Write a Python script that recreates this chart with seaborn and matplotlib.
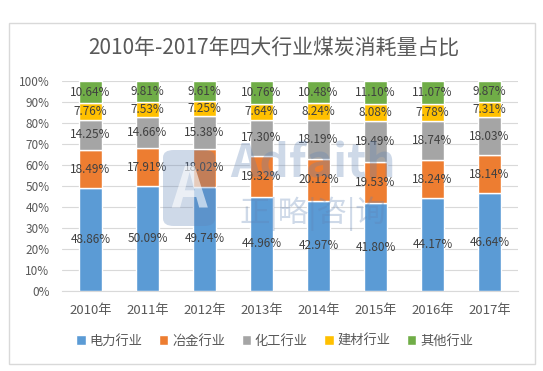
import numpy as np
import matplotlib.pyplot as plt
import seaborn as sns
from matplotlib.patches import Rectangle, FancyBboxPatch

# data
years = ['2010年', '2011年', '2012年', '2013年', '2014年', '2015年', '2016年', '2017年']
power = [48.86, 50.09, 49.74, 44.96, 42.97, 41.80, 44.17, 46.64]
metal = [18.49, 17.91, 18.02, 19.32, 20.12, 19.53, 18.24, 18.14]
chem = [14.25, 14.66, 15.38, 17.30, 18.19, 19.49, 18.74, 18.03]
build = [7.76, 7.53, 7.25, 7.64, 8.24, 8.08, 7.78, 7.31]
other = [10.64, 9.81, 9.61, 10.76, 10.48, 11.10, 11.07, 9.87]
series_names = ['电力行业', '冶金行业', '化工行业', '建材行业', '其他行业']
colors = ['#5B9BD5', '#ED7D31', '#A5A5A5', '#FFC000', '#70AD47']

sns.set_style('white')
plt.rcParams['font.family'] = ['Noto Sans CJK SC', 'DejaVu Sans']

fig = plt.figure(figsize=(5.43, 3.71), dpi=100)
ax = fig.add_axes([0.114, 0.2156, 0.84, 0.566])

bottom = np.zeros(len(years))
for name, vals, c in zip(series_names, [power, metal, chem, build, other], colors):
    sns.barplot(x=years, y=vals, bottom=bottom, color=c, saturation=1, width=0.39,
                ax=ax, label=name, zorder=3)
    cont = ax.containers[-1]
    ax.bar_label(cont, labels=[f'{v:.2f}%' for v in vals], label_type='center',
                 fontsize=8.5, color='#404040', zorder=6)
    bottom += np.array(vals)

ax.set_ylim(0, 100)
ax.set_xlim(-0.5, len(years) - 0.5)
ax.set_yticks(range(0, 101, 10))
ax.set_yticklabels([f'{v}%' for v in range(0, 101, 10)])
ax.grid(axis='y', color='#D9D9D9', linewidth=0.8, zorder=0)
ax.tick_params(axis='y', length=0, pad=9, labelsize=8.5, labelcolor='#595959')
ax.tick_params(axis='x', length=0, pad=9, labelsize=9.5, labelcolor='#595959')
for s in ['left', 'right', 'top']:
    ax.spines[s].set_visible(False)
ax.spines['bottom'].set_color('#D9D9D9')
ax.set_xlabel('')
ax.set_ylabel('')

ax.legend(loc='center', bbox_to_anchor=(0.506, 0.081), bbox_transform=fig.transFigure,
          ncol=5, frameon=False, fontsize=9.5, handlelength=0.7, handleheight=0.7,
          columnspacing=1.25, handletextpad=0.3, labelcolor='#595959')

fig.text(0.505, 0.87, '2010年-2017年四大行业煤炭消耗量占比', ha='center', va='center',
         fontsize=15, color='#595959')

# watermark (logo + company name)
wm = '#5F82B4'
fig.patches.append(FancyBboxPatch((163 / 543, 1 - 226 / 371), 52 / 543, 76 / 371,
                                  boxstyle='round,pad=0,rounding_size=0.02',
                                  transform=fig.transFigure, facecolor=wm,
                                  edgecolor='none', alpha=0.3, zorder=5))
fig.text(189 / 543, 1 - 190 / 371, 'A', ha='center', va='center', fontsize=40,
         fontweight='bold', color='white', alpha=0.6, zorder=5)
fig.text(313 / 543, 1 - 165 / 371, 'Adfaith', ha='center', va='center', fontsize=33,
         fontweight='bold', color=wm, alpha=0.3, zorder=5)
fig.text(313 / 543, 1 - 214 / 371, '正|略|咨|询', ha='center', va='center', fontsize=22,
         color=wm, alpha=0.3, zorder=5)

# outer frame
fig.patches.append(Rectangle((9 / 543, 1 - 364 / 371), 526 / 543, 341 / 371,
                             transform=fig.transFigure, fill=False,
                             edgecolor='#D9D9D9', linewidth=1))

fig.savefig('out.png', dpi=100)
